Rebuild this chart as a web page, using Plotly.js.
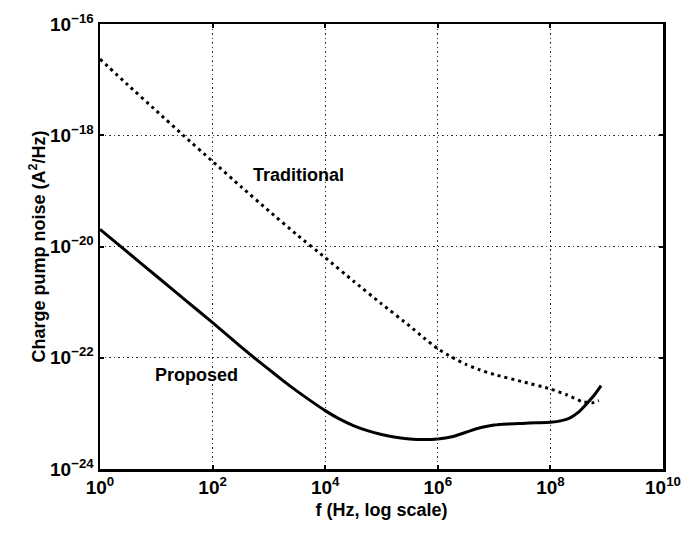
<!DOCTYPE html>
<html>
<head>
<meta charset="utf-8">
<script src="https://cdn.plot.ly/plotly-3.0.1.min.js"></script>
<style>html,body{margin:0;padding:0;background:#fff;}#chart{width:691px;height:534px;}</style>
</head>
<body>
<div id="chart"></div>
<script>
// Traditional charge pump noise (A^2/Hz) vs frequency (Hz)
const tradFreq = [1e0, 3.16e0, 1e1, 3.16e1, 1e2, 3.16e2, 1e3, 3.16e3, 1e4, 3.16e4, 1e5, 3.16e5, 5.62e5, 1e6, 1.78e6, 3.16e6, 5.62e6, 1e7, 3.16e7, 1e8, 2e8, 3.72e8, 5.62e8, 7.24e8];
const tradNoise = [2.34e-17, 7.94e-18, 2.75e-18, 9.55e-19, 3.39e-19, 1.2e-19, 4.37e-20, 1.62e-20, 6.31e-21, 2.4e-21, 9.33e-22, 3.72e-22, 2.29e-22, 1.45e-22, 1.02e-22, 7.59e-23, 6.03e-23, 5.01e-23, 3.72e-23, 2.75e-23, 2.14e-23, 1.62e-23, 1.55e-23, 1.7e-23];

// Proposed charge pump noise (A^2/Hz) vs frequency (Hz)
const propFreq = [1e0, 3.16e0, 1e1, 3.16e1, 1e2, 3.16e2, 5.62e2, 1e3, 1.78e3, 3.16e3, 5.62e3, 1e4, 1.78e4, 3.16e4, 5.62e4, 1e5, 1.78e5, 3.16e5, 5.62e5, 1e6, 1.78e6, 3.16e6, 5.62e6, 1e7, 1.78e7, 3.16e7, 5.62e7, 1e8, 1.58e8, 2.24e8, 3.16e8, 4.37e8, 6.03e8, 7.94e8];
const propNoise = [2.04e-20, 7.76e-21, 2.95e-21, 1.12e-21, 4.27e-22, 1.58e-22, 9.8e-23, 6.17e-23, 3.89e-23, 2.51e-23, 1.66e-23, 1.12e-23, 7.94e-24, 6.03e-24, 4.9e-24, 4.17e-24, 3.72e-24, 3.47e-24, 3.39e-24, 3.47e-24, 3.8e-24, 4.57e-24, 5.5e-24, 6.17e-24, 6.46e-24, 6.61e-24, 6.76e-24, 6.92e-24, 7.41e-24, 8.32e-24, 1.05e-23, 1.48e-23, 2.14e-23, 3.16e-23];

// Tick labels
const xTickVals = [1e0, 1e2, 1e4, 1e6, 1e8, 1e10];
const xTickText = ['10<sup>0</sup>', '10<sup>2</sup>', '10<sup>4</sup>', '10<sup>6</sup>', '10<sup>8</sup>', '10<sup>10</sup>'];
const yTickVals = [1e-24, 1e-22, 1e-20, 1e-18, 1e-16];
const yTickText = ['10<sup>\u221224</sup>', '10<sup>\u221222</sup>', '10<sup>\u221220</sup>', '10<sup>\u221218</sup>', '10<sup>\u221216</sup>'];

const traces = [
  {x: tradFreq, y: tradNoise, mode: 'lines', line: {color: '#000', width: 3, dash: '3px,4px', shape: 'spline', smoothing: 0.5}, name: 'Traditional', showlegend: false},
  {x: propFreq, y: propNoise, mode: 'lines', line: {color: '#000', width: 3, shape: 'spline', smoothing: 0.6}, name: 'Proposed', showlegend: false}
];

const FONT = 'Liberation Sans, Arial, sans-serif';
const axisCommon = {
  showline: true, linecolor: '#000', linewidth: 2.5, mirror: 'ticks',
  ticks: 'inside', ticklen: 4, tickwidth: 2, tickcolor: '#000',
  showgrid: true, gridcolor: '#333', gridwidth: 1, griddash: '1.5px,3px',
  zeroline: false,
  tickfont: {family: FONT, size: 19, color: '#000', weight: 'bold'},
  tickmode: 'array'
};

const layout = {
  width: 691, height: 534,
  margin: {l: 100, r: 28, t: 24, b: 65},
  paper_bgcolor: '#fff', plot_bgcolor: '#fff',
  font: {family: FONT, color: '#000'},
  xaxis: Object.assign({}, axisCommon, {
    type: 'log', range: [0, 10],
    tickvals: xTickVals, ticktext: xTickText,
    title: {text: '<b>f (Hz, log scale)</b>', font: {family: FONT, size: 18, color: '#000'}, standoff: 6}
  }),
  yaxis: Object.assign({}, axisCommon, {
    type: 'log', range: [-24, -16],
    tickvals: yTickVals, ticktext: yTickText,
    title: {text: '<b>Charge pump noise (A<sup>2</sup>/Hz)</b>', font: {family: FONT, size: 18, color: '#000'}, standoff: 0}
  }),
  annotations: [
    {x: Math.log10(3.3e3), y: Math.log10(1.9e-19), xref: 'x', yref: 'y', text: '<b>Traditional</b>', showarrow: false, font: {family: FONT, size: 18, color: '#000'}},
    {x: Math.log10(52), y: Math.log10(4.8e-23), xref: 'x', yref: 'y', text: '<b>Proposed</b>', showarrow: false, font: {family: FONT, size: 18, color: '#000'}}
  ]
};

Plotly.newPlot('chart', traces, layout, {displayModeBar: false, staticPlot: true});
</script>
</body>
</html>
